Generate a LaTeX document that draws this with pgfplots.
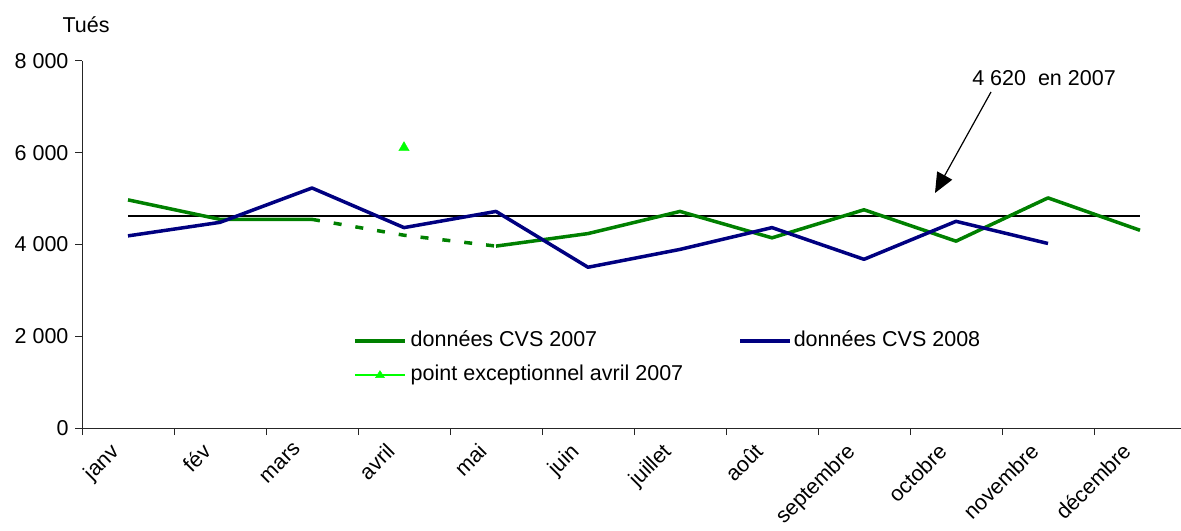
\documentclass[border=0pt]{standalone}
\usepackage{fontspec}
\setmainfont{Liberation Sans}
\usepackage{pgfplots}
\pgfplotsset{compat=1.18}
\usetikzlibrary{arrows.meta}
\definecolor{g07}{RGB}{0,128,0}
\definecolor{b08}{RGB}{0,0,128}
\definecolor{limeg}{RGB}{0,255,0}
\newcommand{\chartfont}{\fontsize{21.5bp}{25bp}\selectfont}
\begin{document}
\begin{tikzpicture}[font=\chartfont]
\begin{axis}[
  at={(82bp,103bp)}, anchor=south west,
  scale only axis, width=1104bp, height=367bp,
  xmin=-0.5, xmax=11.5, ymin=0, ymax=8000,
  axis x line=bottom, axis y line=left,
  axis line style={-, line width=1bp, black!85},
  tick align=outside,
  major tick length=7bp,
  tick style={line width=1bp, black!85},
  xtick={-0.5,0.5,1.5,2.5,3.5,4.5,5.5,6.5,7.5,8.5,9.5,10.5,11.5},
  x tick label as interval,
  xticklabels={janv,fév,mars,avril,mai,juin,juillet,août,septembre,octobre,novembre,décembre},
  xticklabel style={xshift=-19bp, yshift=-4bp, rotate=45, anchor=north east, inner sep=2bp, font=\chartfont},
  ytick={0,2000,4000,6000,8000},
  yticklabel style={font=\chartfont, xshift=-3bp, /pgf/number format/1000 sep={\ }, /pgf/number format/assume math mode=true},
  unbounded coords=jump,
  clip=false,
  legend columns=2,
  legend style={at={(0.2455,0.270)}, anchor=north west, draw=none, fill=none, inner sep=0pt,
    font=\chartfont,
    nodes={inner sep=2bp, text height=15.5bp, text depth=4.5bp},
    row sep=10bp,
    /tikz/column 1/.style={column sep=2bp},
    /tikz/column 2/.style={column sep=53bp}},
  legend cell align=left,
  legend image code/.code={\draw[#1] (0bp,0bp) -- (50bp,0bp);},
]
% reference line
\addplot[black, line width=1.5bp, forget plot] coordinates {(0,4620) (11,4620)};
% 2007 dashed part
\addplot[g07, line width=3.5bp, dash pattern=on 8bp off 14bp, forget plot] coordinates {(2,4548) (3,4202) (4,3965)};
% 2007
\addplot[g07, line width=3.5bp, line join=round] coordinates {
 (0,4973) (1,4548) (2,4548) (3,nan) (4,3965) (5,4238) (6,4721) (7,4145) (8,4757) (9,4073) (10,5016) (11,4310)};
\addlegendentry{données CVS 2007}
% 2008
\addplot[b08, line width=3.5bp, line join=round] coordinates {
 (0,4188) (1,4483) (2,5232) (3,4368) (4,4721) (5,3504) (6,3893) (7,4368) (8,3677) (9,4505) (10,4022)};
\addlegendentry{données CVS 2008}
% exceptional point
\addplot[limeg, mark=triangle*, mark size=6bp, mark options={fill=limeg, draw=limeg},
  legend image code/.code={\draw[draw=limeg, line width=2.2bp] (0bp,0bp) -- (50bp,0bp);
    \fill[limeg] (25bp,4.5bp) -- (20.5bp,-2.5bp) -- (29.5bp,-2.5bp) -- cycle;}] coordinates {(3,6110)};
\addlegendentry{point exceptionnel avril 2007}
\end{axis}
\node at (86bp,506bp) {Tués};
\node at (1044bp,453bp) {4 620\ \ en 2007};
\draw[-{Triangle[length=20bp,width=17bp]}, line width=1.2bp] (991bp,439bp) -- (935bp,338bp);
\pgfresetboundingbox
\useasboundingbox (0,0) rectangle (1181bp,531bp);
\end{tikzpicture}
\end{document}
